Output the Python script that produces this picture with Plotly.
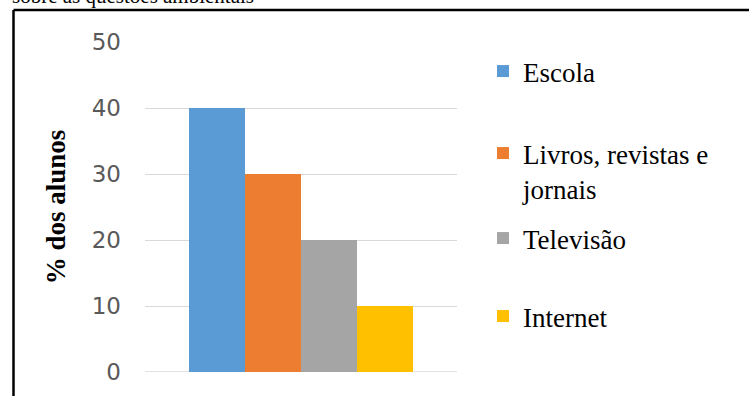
import plotly.graph_objects as go

# Sources of information about environmental issues (% of students)
categories = ["Fontes"]
sources = ["Escola", "Livros, revistas e<br>jornais", "Televisão", "Internet"]
values = [40, 30, 20, 10]
colors = ["#5B9BD5", "#ED7D31", "#A5A5A5", "#FFC000"]

y_ticks = [0, 10, 20, 30, 40, 50]
y_title = "% dos alunos"
caption = "sobre as questões ambientais"

W, H = 749, 396
L, R, T, B = 145, 292, 42, 24
pw, ph = W - L - R, H - T - B


def px_x(x):
    return (x - L) / pw


def px_y(y):
    return (H - B - y) / ph


# one legend per entry so each can sit at its own height
legend_ids = ["legend", "legend2", "legend3", "legend4"]
legend_tops = [47, 129, 214, 292]

fig = go.Figure()
for name, val, col, lid in zip(sources, values, colors, legend_ids):
    fig.add_trace(go.Bar(
        x=categories, y=[val], name=name, marker=dict(color=col, line=dict(width=0)),
        legend=lid, hoverinfo="skip",
    ))

legend_font = dict(family="Liberation Serif", size=27, color="#000000")
legend_layouts = {}
for lid, top in zip(legend_ids, legend_tops):
    legend_layouts[lid] = dict(
        x=483 / W, y=1 - top / H, xref="container", yref="container",
        xanchor="left", yanchor="top", bgcolor="rgba(0,0,0,0)",
        font=legend_font, valign="top", borderwidth=0,
        itemclick=False, itemdoubleclick=False,
    )

fig.update_layout(
    width=W, height=H,
    margin=dict(l=L, r=R, t=T, b=B, autoexpand=False),
    paper_bgcolor="#FFFFFF", plot_bgcolor="#FFFFFF",
    barmode="group", bargap=0.282, bargroupgap=0,
    showlegend=True,
    **legend_layouts,
    xaxis=dict(showticklabels=False, showgrid=False, zeroline=False,
               showline=False, ticks="", fixedrange=True),
    yaxis=dict(
        range=[0, 50], tickvals=y_ticks, ticktext=[str(v) for v in y_ticks],
        showgrid=True, gridcolor="#D9D9D9", gridwidth=1,
        zeroline=False, showline=False, ticks="",
        ticklabelstandoff=23,
        tickfont=dict(family="DejaVu Sans", size=23, color="#595959"),
        title=dict(text="<b>" + y_title + "</b>", standoff=18,
                   font=dict(family="Liberation Serif", size=27, color="#000000")),
        fixedrange=True,
    ),
    shapes=[
        # frame around the chart (left and top edges)
        dict(type="line", xref="paper", yref="paper",
             x0=px_x(13.5), x1=px_x(13.5), y0=px_y(400), y1=px_y(10),
             line=dict(color="#000000", width=2.5)),
        dict(type="line", xref="paper", yref="paper",
             x0=px_x(13.5), x1=px_x(755), y0=px_y(10), y1=px_y(10),
             line=dict(color="#000000", width=2.5)),
        # category axis baseline
        dict(type="line", xref="paper", yref="y", x0=0, x1=1, y0=0, y1=0,
             line=dict(color="#D9D9D9", width=1.5), layer="below"),
    ],
    annotations=[
        dict(text=caption, xref="paper", yref="paper",
             x=px_x(10), y=px_y(10), xanchor="left", yanchor="bottom",
             showarrow=False,
             font=dict(family="Liberation Serif", size=21, color="#000000")),
    ],
)

fig.write_html("out.html", config={"displayModeBar": False})
